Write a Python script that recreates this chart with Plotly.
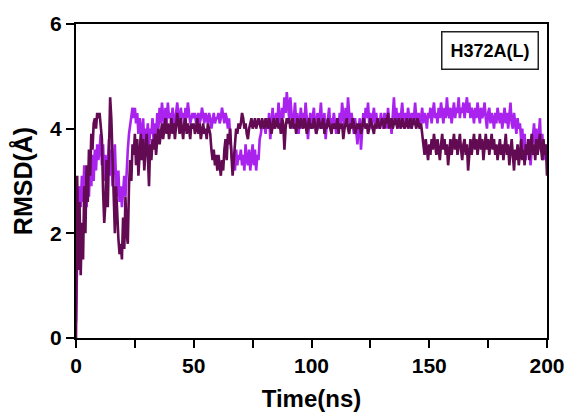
import numpy as np
import plotly.graph_objects as go

# Time axis (ns), 0.5 ns sampling
time_ns = np.arange(0, 200.5, 0.5)

# Light purple trace
rmsd_light = [
    0.3, 2.0, 2.7, 2.9, 2.5, 3.1, 2.6, 3.3, 2.8, 2.5, 3.2, 2.7, 3.4, 2.9, 3.5, 3.0, 3.6, 3.2, 3.7, 3.4,
    3.6, 3.9, 3.3, 3.7, 3.0, 3.5, 2.8, 3.4, 3.8, 3.1, 3.6, 2.9, 3.3, 3.7, 3.0, 2.7, 3.2, 2.6, 2.9, 2.5,
    2.8, 3.1, 2.7, 3.3, 3.6, 3.9, 4.1, 4.3, 4.4, 4.2, 4.4, 4.1, 4.3, 3.9, 4.2, 4.0, 3.8, 4.2, 3.7, 4.0,
    3.8, 4.1, 3.6, 4.0, 3.9, 4.2, 3.7, 4.1, 3.8, 4.3, 4.0, 4.4, 4.1, 4.5, 4.2, 4.0, 4.4, 4.1, 4.5, 4.2,
    4.3, 4.1, 4.4, 4.2, 4.0, 4.3, 4.5, 4.2, 4.1, 4.4, 4.2, 4.3, 4.1, 4.4, 4.2, 4.5, 4.3, 4.1, 4.2, 4.3,
    4.2, 4.3, 4.1, 4.2, 4.3, 4.1, 4.2, 4.4, 4.2, 4.1, 4.3, 4.2, 4.1, 4.3, 4.2, 4.0, 4.2, 4.3, 4.1, 4.2,
    4.2, 4.3, 4.1, 4.2, 4.4, 4.2, 4.1, 4.3, 4.2, 4.0, 4.2, 3.8, 3.6, 3.3, 3.5, 3.2, 3.6, 3.3, 3.5, 3.4,
    3.6, 3.3, 3.5, 3.2, 3.7, 3.4, 3.3, 3.6, 3.2, 3.5, 3.7, 3.3, 3.6, 3.2, 3.5, 3.4, 3.8, 3.9, 4.1, 4.0,
    4.1, 3.9, 4.2, 4.0, 4.3, 3.8, 4.1, 4.4, 4.0, 4.2, 4.3, 4.1, 4.5, 4.2, 4.0, 4.4, 4.2, 4.6, 4.3, 4.7,
    4.4, 4.2, 4.6, 4.3, 4.0, 4.2, 4.5, 4.1, 4.3, 3.9, 4.2, 4.4, 4.0, 4.3, 4.1, 4.5, 4.2, 3.8, 4.1, 4.3,
    4.0, 4.2, 4.4, 4.1, 3.9, 4.3, 4.0, 4.2, 4.5, 4.1, 4.0, 4.3, 3.8, 4.1, 4.2, 4.4, 4.0, 4.2, 4.1, 4.3,
    4.1, 3.9, 4.2, 4.0, 4.3, 4.1, 4.5, 4.2, 4.0, 4.4, 4.1, 4.6, 4.2, 4.0, 4.3, 4.1, 3.9, 4.2, 4.0, 3.7,
    4.0, 4.2, 3.6, 4.0, 4.3, 4.1, 4.4, 4.2, 4.5, 4.1, 4.3, 4.0, 4.2, 4.4, 4.1, 4.3, 4.0, 4.2, 4.1, 4.3,
    4.1, 4.0, 4.3, 4.2, 4.0, 4.4, 4.1, 4.2, 3.9, 4.3, 4.6, 4.2, 4.4, 4.1, 4.3, 4.0, 4.2, 4.5, 4.2, 4.1,
    4.3, 4.1, 4.4, 4.2, 4.0, 4.3, 4.1, 4.2, 4.5, 4.2, 4.1, 4.3, 4.0, 4.2, 4.4, 4.1, 4.3, 4.2, 4.0, 4.3,
    4.2, 4.4, 4.1, 4.3, 4.5, 4.2, 4.3, 4.1, 4.4, 4.2, 4.5, 4.3, 4.1, 4.4, 4.2, 4.6, 4.3, 4.2, 4.4, 4.1,
    4.3, 4.5, 4.2, 4.4, 4.3, 4.6, 4.2, 4.4, 4.3, 4.5, 4.2, 4.4, 4.6, 4.3, 4.5, 4.2, 4.4, 4.3, 4.1, 4.4,
    4.2, 4.5, 4.3, 4.1, 4.4, 4.2, 4.3, 4.5, 4.2, 4.0, 4.3, 4.4, 4.1, 4.3, 4.2, 4.0, 4.3, 4.1, 4.4, 4.2,
    4.1, 4.3, 4.0, 4.2, 4.4, 4.1, 4.3, 4.0, 4.2, 4.5, 4.1, 4.0, 4.3, 4.1, 3.9, 4.2, 4.0, 4.1, 3.8, 4.0,
    3.6, 3.9, 3.4, 3.7, 3.5, 3.8, 3.3, 3.6, 3.9, 4.1, 3.7, 4.0, 3.5, 3.8, 4.2, 3.6, 3.9, 3.4, 3.7, 3.5,
    3.4,
]

# Dark purple trace
rmsd_dark = [
    0.0, 3.1, 1.3, 2.6, 1.2, 2.2, 1.5, 2.9, 2.0, 3.3, 2.6, 3.6, 3.1, 3.9, 3.6, 4.1, 4.2, 4.0, 4.3, 4.2,
    4.3, 4.1, 3.8, 2.8, 2.2, 2.6, 3.4, 2.5, 3.9, 4.6, 4.2, 3.3, 2.6, 2.0, 2.9, 2.3, 1.9, 1.6, 1.8, 1.5,
    2.3, 1.7, 2.7, 2.0, 1.8, 2.9, 3.4, 3.0, 3.7, 3.5, 3.9, 3.3, 3.8, 3.1, 3.6, 3.9, 3.4, 3.8, 3.2, 3.6,
    3.9, 3.5, 2.9, 3.7, 3.4, 3.8, 3.6, 3.9, 3.5, 3.8, 4.0, 3.7, 3.9, 4.1, 3.8, 4.0, 4.2, 3.9, 4.1, 3.8,
    4.0, 4.2, 3.9, 4.1, 3.8, 4.0, 4.3, 4.1, 3.9, 4.2, 4.0, 3.8, 4.1, 4.2, 3.9, 4.1, 4.0, 3.8, 4.1, 4.0,
    4.1, 3.9, 4.0, 4.2, 3.9, 4.1, 3.8, 4.0, 4.1, 3.9, 4.0, 3.8, 4.1, 4.0, 3.9, 3.6, 3.4, 3.6, 3.3, 3.5,
    3.2, 3.5, 3.3, 3.1, 3.4, 3.2, 3.6, 3.8, 3.4, 3.9, 3.7, 4.0, 3.5, 3.1, 3.4, 3.8, 4.0, 3.9, 4.1, 4.0,
    4.1, 4.3, 4.2, 4.0, 4.1, 3.9, 3.8, 4.0, 4.1, 4.2, 4.0, 4.1, 4.2, 4.0, 4.1, 4.2, 4.1, 4.0, 4.2, 4.1,
    4.0, 4.2, 4.1, 4.0, 4.2, 4.1, 3.9, 4.1, 4.2, 4.0, 4.1, 4.2, 4.0, 4.1, 3.9, 4.2, 4.1, 3.6, 4.0, 4.2,
    4.1, 4.2, 4.0, 4.1, 4.2, 4.0, 4.1, 3.9, 4.2, 4.1, 4.0, 4.2, 4.1, 4.0, 4.2, 4.1, 3.9, 4.1, 4.2, 4.0,
    4.1, 4.0, 4.2, 4.1, 3.9, 4.0, 4.2, 4.1, 4.0, 4.1, 4.2, 3.9, 4.1, 4.0, 4.2, 4.1, 4.0, 3.9, 4.1, 4.0,
    4.1, 4.0, 4.2, 3.9, 4.1, 4.0, 4.1, 3.8, 4.0, 4.1, 4.2, 4.0, 3.9, 4.1, 4.0, 4.2, 4.1, 3.9, 4.0, 4.1,
    4.0, 4.1, 3.9, 4.0, 4.2, 4.1, 4.0, 4.1, 3.9, 4.0, 4.2, 4.1, 4.0, 3.9, 4.1, 4.0, 4.2, 4.1, 4.0, 4.1,
    4.2, 4.1, 4.0, 4.2, 4.1, 4.3, 4.0, 4.1, 4.2, 4.0, 4.1, 4.2, 4.1, 4.0, 4.2, 4.1, 4.0, 4.2, 4.1, 4.0,
    4.1, 4.2, 4.0, 4.1, 4.2, 4.0, 4.1, 4.2, 4.1, 4.0, 4.2, 4.1, 4.0, 4.1, 3.9, 3.7, 3.5, 3.8, 3.6, 3.4,
    3.7, 3.5, 3.8, 3.6, 3.9, 3.7, 3.5, 3.8, 3.6, 3.4, 3.7, 3.9, 3.6, 3.8, 3.5, 3.7, 3.3, 3.6, 3.8, 3.5,
    3.7, 3.9, 3.6, 3.8, 3.5, 3.7, 3.9, 3.6, 3.4, 3.7, 3.8, 3.5, 3.7, 3.2, 3.6, 3.8, 3.5, 3.7, 3.9, 3.6,
    3.8, 3.5, 3.7, 3.9, 3.6, 3.8, 3.4, 3.7, 3.9, 3.6, 3.8, 3.5, 3.7, 3.9, 3.6, 3.8, 3.5, 3.7, 3.4, 3.6,
    3.8, 3.5, 3.7, 3.4, 3.6, 3.9, 3.5, 3.7, 3.3, 3.6, 3.8, 3.5, 3.2, 3.6, 3.4, 3.7, 3.3, 3.5, 3.8, 3.4,
    3.6, 3.3, 3.7, 3.5, 3.8, 3.4, 3.6, 3.9, 3.5, 3.7, 3.4, 3.8, 3.5, 3.7, 3.9, 3.6, 3.4, 3.8, 3.5, 3.7,
    3.1,
]

x_ticks = [0, 50, 100, 150, 200]
y_ticks = [0, 2, 4, 6]
label_text = "H372A(L)"

FONT = "Liberation Sans, Arial, sans-serif"

fig = go.Figure()
fig.add_trace(go.Scatter(x=time_ns, y=rmsd_light, mode="lines",
                         line=dict(color="#AA22EE", width=2.6), showlegend=False))
fig.add_trace(go.Scatter(x=time_ns, y=rmsd_dark, mode="lines",
                         line=dict(color="#620A52", width=2.6), showlegend=False))

axis_common = dict(showline=True, linewidth=2, linecolor="black", mirror=True,
                   ticks="outside", ticklen=8, tickwidth=2, tickcolor="black",
                   showgrid=False, zeroline=False,
                   tickfont=dict(family=FONT, size=21, color="black", weight="bold"))

fig.update_xaxes(range=[0, 200], tickvals=x_ticks,
                 minor=dict(dtick=25, tick0=0, ticks="outside", ticklen=8, tickwidth=2, tickcolor="black"),
                 title=dict(text="Time(ns)", standoff=14,
                            font=dict(family=FONT, size=24, color="black", weight="bold")),
                 **axis_common)
fig.update_yaxes(range=[0, 6], tickvals=y_ticks,
                 title=dict(text="RMSD(Å)", standoff=10,
                            font=dict(family=FONT, size=25, color="black", weight="bold")),
                 **axis_common)

fig.add_annotation(x=0.88, y=0.915, xref="paper", yref="paper", xanchor="center", yanchor="middle",
                   text=label_text,
                   showarrow=False, font=dict(family=FONT, size=18, color="black", weight="bold"),
                   bordercolor="#222222", borderwidth=1.5, borderpad=8, bgcolor="white")

fig.update_layout(width=566, height=415, margin=dict(l=76, r=19, t=24, b=77, autoexpand=False),
                  plot_bgcolor="white", paper_bgcolor="white")

fig.write_html("out.html")
